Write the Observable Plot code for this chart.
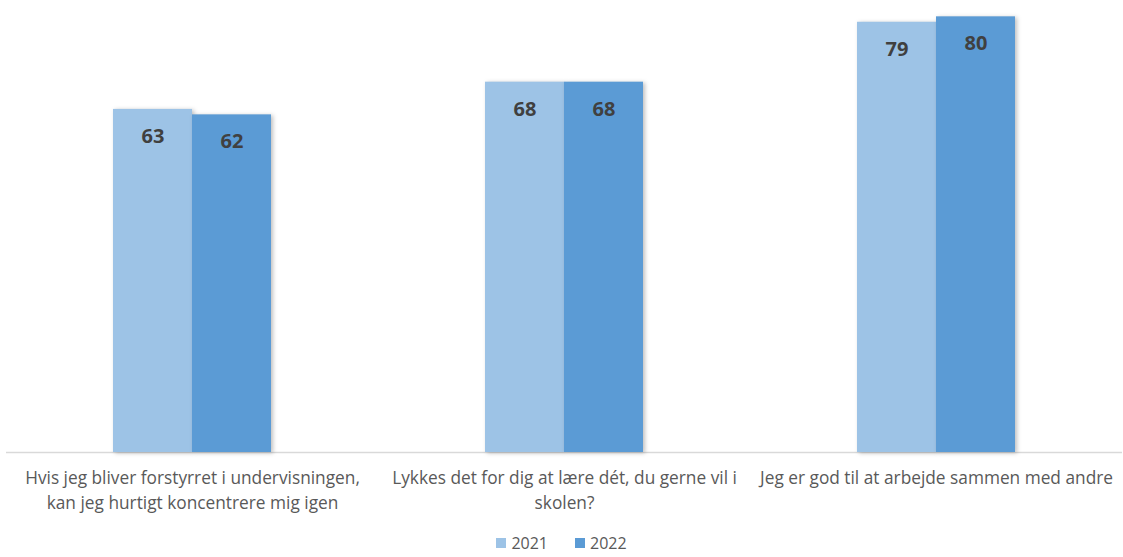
<!DOCTYPE html>
<html>
<head>
<meta charset="utf-8">
<script src="https://cdn.jsdelivr.net/npm/d3@7"></script>
<script src="https://cdn.jsdelivr.net/npm/@observablehq/plot@0.6"></script>
<style>
  html, body { margin: 0; padding: 0; background: #fff; }
  #chart svg g[aria-label="bar"] rect { filter: drop-shadow(2px 1px 2px rgba(0,0,0,0.25)); }
  .legend { display: flex; justify-content: center; gap: 27px; font-family: "Open Sans", sans-serif; font-size: 16px; color: #595959; height: 29px; align-items: center; padding-left: 0px; }
  .legend span.sw { display: inline-block; width: 10px; height: 10px; margin-right: 5px; vertical-align: middle; }
  .legend .item { display: flex; align-items: center; }
</style>
</head>
<body>
<div id="chart"></div>
<div class="legend" id="legend"></div>
<script>
const categories = [
  "Hvis jeg bliver forstyrret i undervisningen,\nkan jeg hurtigt koncentrere mig igen",
  "Lykkes det for dig at lære dét, du gerne vil i\nskolen?",
  "Jeg er god til at arbejde sammen med andre"
];
const years = ["2021", "2022"];
const values2021 = [63, 68, 79];
const values2022 = [62, 68, 80];
const colors = ["#9DC3E6", "#5B9BD5"];

const data = [];
categories.forEach((c, i) => {
  data.push({cat: c, year: years[0], value: values2021[i]});
  data.push({cat: c, year: years[1], value: values2022[i]});
});

const font = "'Open Sans', sans-serif";
const chart = Plot.plot({
  width: 1123,
  height: 528,
  marginTop: 0,
  marginBottom: 76,
  marginLeft: 5,
  marginRight: 0,
  style: {fontFamily: font, background: "#fff"},
  fx: {domain: categories, padding: 0, axis: null},
  x: {domain: years, paddingInner: 0, paddingOuter: 1.354, axis: null},
  y: {domain: [0, 83], axis: null},
  color: {domain: years, range: colors},
  marks: [
    Plot.ruleY([0], {stroke: "#d9d9d9", strokeWidth: 1.5}),
    Plot.barY(data, {fx: "cat", x: "year", y: "value", fill: "year"}),
    Plot.text(data, {fx: "cat", x: "year", y: "value", text: d => String(d.value), dy: 27,
      fontSize: 20, fontWeight: "bold", fill: "#404040"}),
    Plot.text(categories, {fx: d => d, text: d => d, frameAnchor: "bottom", lineAnchor: "top",
      dy: 14, fontSize: 17.3, fill: "#595959", lineHeight: 1.45})
  ]
});
document.getElementById("chart").appendChild(chart);

const legend = document.getElementById("legend");
years.forEach((y, i) => {
  const item = document.createElement("div");
  item.className = "item";
  item.innerHTML = `<span class="sw" style="background:${colors[i]}"></span>${y}`;
  legend.appendChild(item);
});
</script>
</body>
</html>
